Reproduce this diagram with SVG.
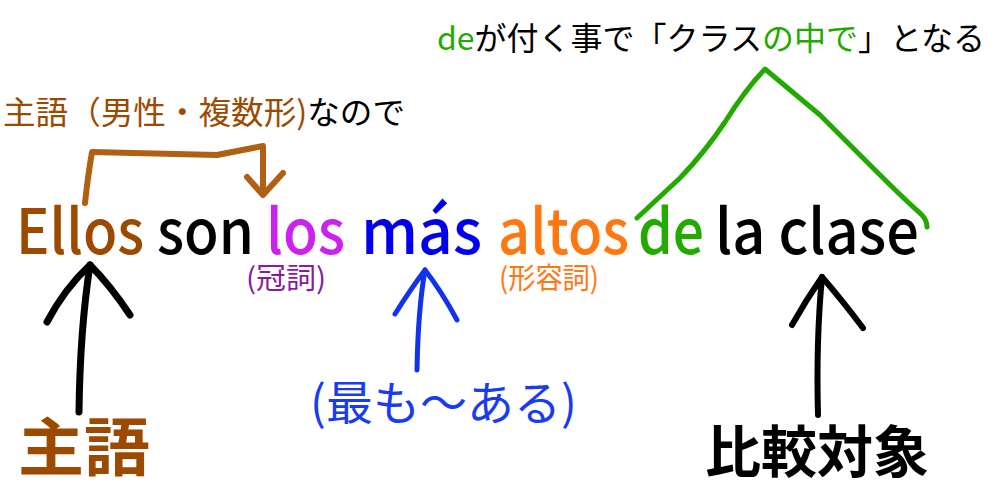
<svg xmlns="http://www.w3.org/2000/svg" width="997" height="489" viewBox="0 0 997 489">
<style>
text{font-family:"Noto Sans CJK JP","Noto Sans",sans-serif}
.w{font-size:62px;font-weight:500}
.jp{font-size:32px}
.sm{font-size:29px}
.stroke{fill:none;stroke-linecap:round;stroke-linejoin:round}
</style>
<rect width="997" height="489" fill="#ffffff"/>
<g id="sentence">
<text class="w" x="16" y="254" textLength="128" lengthAdjust="spacingAndGlyphs" fill="#9c4a00">Ellos</text>
<text class="w" x="157" y="254" textLength="97" lengthAdjust="spacingAndGlyphs" fill="#000">son</text>
<text class="w" x="266" y="254" textLength="79" lengthAdjust="spacingAndGlyphs" fill="#cc22ee">los</text>
<text class="w" x="361" y="254" textLength="121" lengthAdjust="spacingAndGlyphs" fill="#0000ee">más</text>
<text class="w" x="498" y="254" textLength="131" lengthAdjust="spacingAndGlyphs" fill="#ff7711">altos</text>
<text class="w" x="638" y="254" textLength="66" lengthAdjust="spacingAndGlyphs" fill="#22aa00">de</text>
<text class="w" x="715" y="254" textLength="204" lengthAdjust="spacingAndGlyphs" fill="#000">la clase</text>
</g>
<g id="label-kanshi"><text class="sm" x="246" y="289" textLength="80" lengthAdjust="spacingAndGlyphs" fill="#8a1aa0">(冠詞)</text></g>
<g id="label-keiyoshi"><text class="sm" x="499" y="289" textLength="100" lengthAdjust="spacingAndGlyphs" fill="#ff7711">(形容詞)</text></g>
<g id="note-subject"><text class="jp" x="3" y="124" font-size="33" textLength="402" lengthAdjust="spacingAndGlyphs"><tspan fill="#9c4a00">主語（男性・複数形)</tspan><tspan fill="#000">なので</tspan></text></g>
<g id="note-de"><text class="jp" x="437" y="50" textLength="548" lengthAdjust="spacingAndGlyphs"><tspan fill="#22aa00">de</tspan><tspan fill="#000">が付く事で「クラス</tspan><tspan fill="#22aa00">の中で</tspan><tspan fill="#000">」となる</tspan></text></g>
<g id="label-shugo"><text x="18" y="470" font-size="63" font-weight="bold" fill="#9c4a00" textLength="132" lengthAdjust="spacingAndGlyphs">主語</text></g>
<g id="label-mottomo"><text x="310" y="420" font-size="47" fill="#1a3cf0">(最も〜ある)</text></g>
<g id="label-hikaku"><text x="705" y="472" font-size="56" font-weight="bold" fill="#000">比較対象</text></g>
<g id="connectors">
<path class="stroke" stroke="#b06010" stroke-width="6" d="M85,203 Q88,175 92,152 L217,155 L263,146 L263,193"/>
<path class="stroke" stroke="#b06010" stroke-width="6" d="M247,177 L263,195 L283,173"/>
<path class="stroke" stroke="#22aa00" stroke-width="5" d="M637,218 L680,178 Q705,152 725,122 Q745,90 765,69 L820,115 L870,165 Q905,200 921,214 Q927,220 927,227"/>
<path class="stroke" stroke="#000" stroke-width="7" d="M79,412 Q80,330 90,265"/>
<path class="stroke" stroke="#000" stroke-width="7" d="M47,322 Q65,288 90,265 Q110,285 130,315"/>
<path class="stroke" stroke="#1133ee" stroke-width="5" d="M417,370 Q418,310 425,270"/>
<path class="stroke" stroke="#1133ee" stroke-width="5" d="M395,314 Q410,290 425,270 Q442,292 457,320"/>
<path class="stroke" stroke="#000" stroke-width="6" d="M818,415 Q816,340 822,277"/>
<path class="stroke" stroke="#000" stroke-width="6" d="M792,325 Q806,300 822,277 Q842,300 863,328"/>
</g>
</svg>
